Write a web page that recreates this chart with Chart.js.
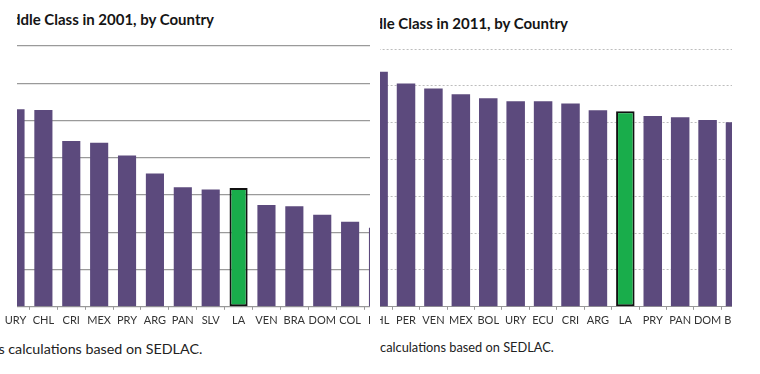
<!DOCTYPE html>
<html>
<head>
<meta charset="utf-8">
<script src="https://cdn.jsdelivr.net/npm/chart.js@4.4.1/dist/chart.umd.min.js"></script>
<style>
  body { margin: 0; background: #fff; width: 760px; height: 374px; position: relative; overflow: hidden; font-family: Lato, sans-serif; }
  .clip { position: absolute; overflow: hidden; }
  .clip > span { position: absolute; top: 0; white-space: nowrap; }
  .titulo { font-weight: bold; font-size: 15px; color: #151515; }
  .fuente { color: #222; }
  canvas { position: absolute; top: 0; }
</style>
</head>
<body>
<div class="clip" id="t1" style="left:17px;top:10px;width:340px;height:22px"><span class="titulo"><span class="pre">Mid</span>dle Class in 2001, by Country</span></div>
<div class="clip" id="t2" style="left:380px;top:14px;width:340px;height:22px"><span class="titulo"><span class="pre">Midd</span>le Class in 2011, by Country</span></div>

<!-- el recorte deja ver las etiquetas a la izquierda pero corta el area del grafico en x=17 -->
<div class="clip" style="left:0;top:0;width:370px;height:338px;clip-path:polygon(17px 0, 370px 0, 370px 338px, 0 338px, 0 315px, 17px 315px)"><canvas id="g2001"></canvas></div>
<div class="clip" style="left:380px;top:0;width:352px;height:338px"><canvas id="g2011"></canvas></div>

<div class="clip" id="f1" style="left:0;top:340px;width:370px;height:22px"><span class="fuente" style="font-size:14.3px"><span class="pre">Source: Author'</span>s calculations based on SEDLAC.</span></div>
<div class="clip" id="f2" style="left:380px;top:339px;width:370px;height:22px"><span class="fuente" style="font-size:12.8px"><span class="pre">Source: Author's </span>calculations based on SEDLAC.</span></div>

<script>
const paises2001 = ["URY", "CHL", "CRI", "MEX", "PRY", "ARG", "PAN", "SLV", "LA", "VEN", "BRA", "DOM", "COL", "PER"];
const valores2001 = [53.0, 52.8, 44.5, 44.0, 40.6, 35.8, 32.1, 31.5, 31.9, 27.3, 27.0, 24.7, 22.8, 21.2];
const paises2011 = ["CHL", "PER", "VEN", "MEX", "BOL", "URY", "ECU", "CRI", "ARG", "LA", "PRY", "PAN", "DOM", "BRA"];
const valores2011 = [63.8, 60.6, 59.3, 57.7, 56.6, 55.8, 55.8, 55.2, 53.4, 53.1, 51.8, 51.5, 50.7, 50.1];

const morado = "#5c4a7d";
const verde = "#19ad4b";

// corre el texto para que lo escondido quede a la izquierda del recorte
const ajustarTexto = (id, extra) => {
  const caja = document.getElementById(id);
  const span = caja.querySelector(":scope > span");
  const pre = span.querySelector(".pre");
  span.style.left = (-pre.offsetWidth + extra) + "px";
};

const crearGrafico = (id, labels, valores, opc) => {
  const canvas = document.getElementById(id);
  canvas.style.left = opc.left + "px";
  canvas.width = opc.width;
  canvas.height = 331;
  canvas.style.width = opc.width + "px";
  canvas.style.height = "331px";

  const colores = labels.map((p) => (p === "LA" ? verde : morado));
  const bordes = labels.map((p) => (p === "LA" ? 2 : 0));

  return new Chart(canvas, {
    type: "bar",
    data: {
      labels,
      datasets: [{
        data: valores,
        backgroundColor: colores,
        borderColor: "#111",
        borderWidth: bordes,
        borderSkipped: false,
        barPercentage: opc.barra,
        categoryPercentage: 1,
        clip: 0,
      }],
    },
    options: {
      responsive: false,
      animation: false,
      events: [],
      layout: { padding: { left: opc.padLeft, right: opc.padRight, top: opc.padTop, bottom: 0 } },
      plugins: { legend: { display: false }, tooltip: { enabled: false } },
      scales: {
        x: {
          offset: false,
          grid: { offset: true, drawOnChartArea: false, drawTicks: true, tickLength: 3, color: "#999" },
          border: { display: true, color: "#999", width: 1 },
          ticks: {
            autoSkip: false, maxRotation: 0, padding: 4,
            color: "#333", font: { family: "Lato", size: 11 },
          },
        },
        y: {
          position: "right",
          min: 0, max: 70,
          ticks: { display: false, stepSize: 10 },
          border: { display: false, dash: opc.dash },
          grid: { drawTicks: false, color: opc.gridColor, lineWidth: opc.gridWidth },
        },
      },
    },
  });
};

crearGrafico("g2001", paises2001, valores2001, {
  left: -40, width: 440, padLeft: 55.5, padRight: 22, padTop: 46,
  barra: 0.65, dash: [], gridColor: "#9a9a9a", gridWidth: 1.3,
});
crearGrafico("g2011", paises2011, valores2011, {
  left: -40, width: 420, padLeft: 38.6, padRight: 25, padTop: 49,
  barra: 0.675, dash: [2, 2], gridColor: "#bdbdbd", gridWidth: 1,
});

ajustarTexto("t1", 3);
ajustarTexto("t2", 3);
ajustarTexto("f1", -2);
ajustarTexto("f2", 0);
</script>
</body>
</html>
